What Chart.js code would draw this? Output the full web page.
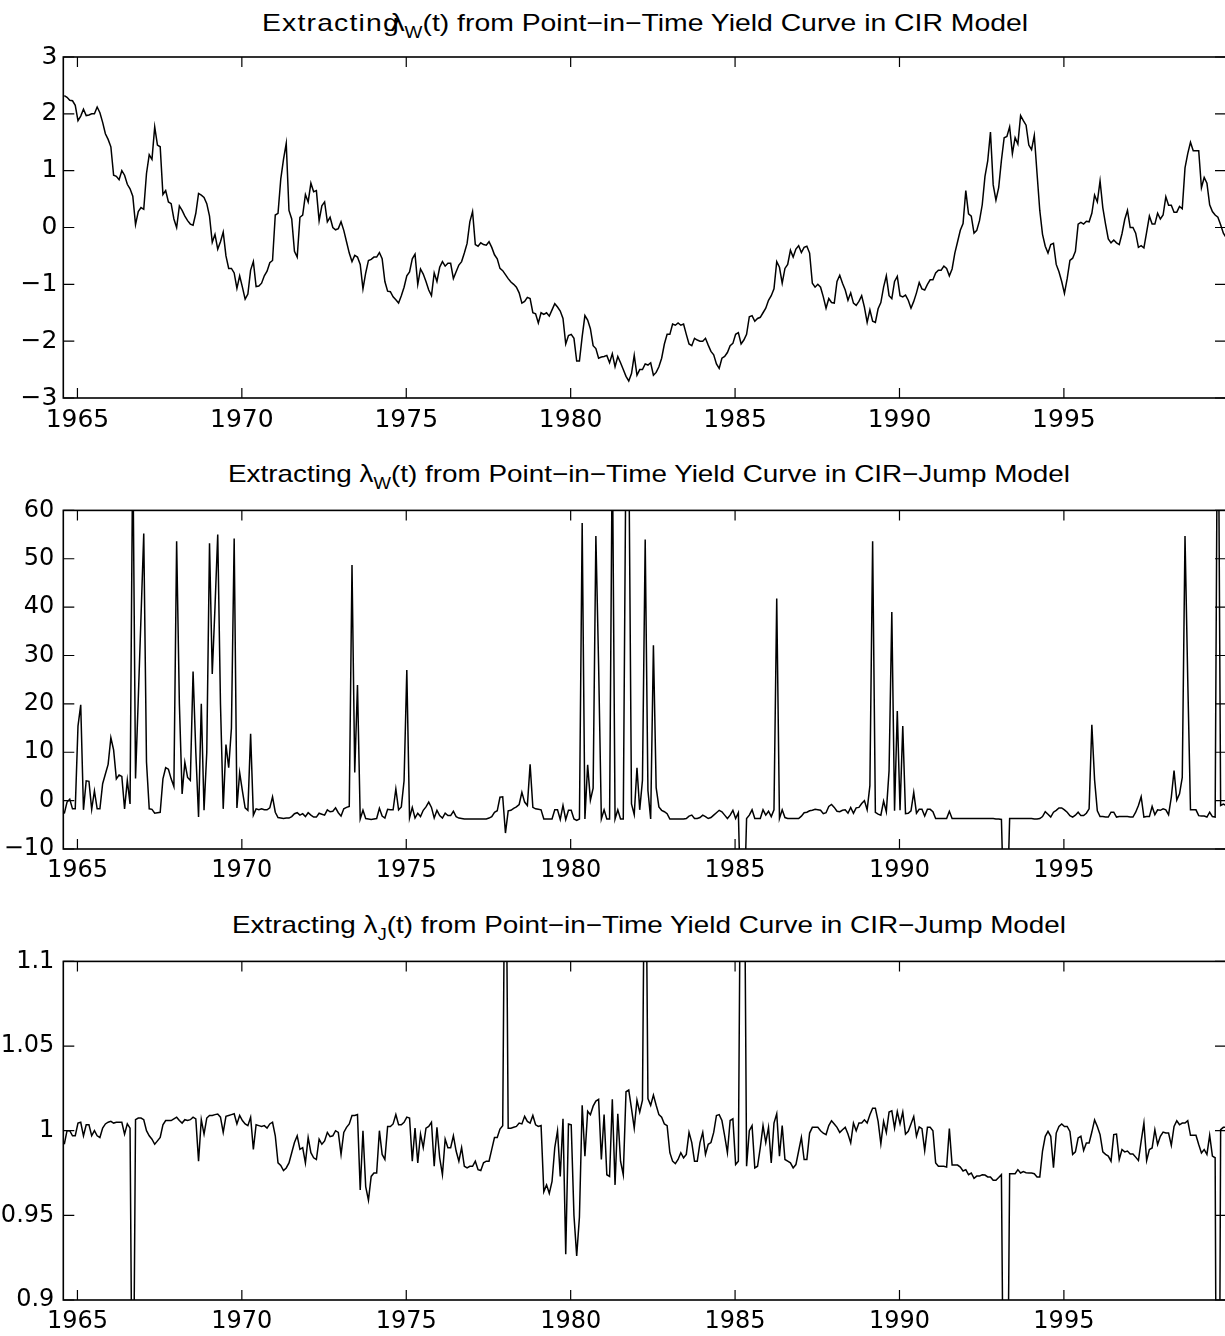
<!DOCTYPE html>
<html>
<head>
<meta charset="utf-8">
<title>Extracting lambda from Point-in-Time Yield Curve</title>
<script src="https://cdn.jsdelivr.net/npm/chart.js@4.4.1/dist/chart.umd.min.js"></script>
<style>
  html, body { margin: 0; padding: 0; background: #fff; width: 1225px; height: 1336px; overflow: hidden; }
  canvas { position: absolute; left: 0; }
  .title {
    position: absolute; white-space: nowrap; color: #000;
    font-family: "Liberation Sans", Arial, sans-serif; font-size: 24px; line-height: 28px;
  }
  .title sub { font-size: 16px; vertical-align: -7px; line-height: 0; }
  #t1 .word { letter-spacing: 1px; }
  #t1 .lam { margin-left: -8px; }
</style>
</head>
<body>

<div class="title" id="t1"><span class="word">Extracting</span><span class="lam">λ<sub>W</sub></span>(t) from Point−in−Time Yield Curve in CIR Model</div>
<div class="title" id="t2">Extracting λ<sub>W</sub>(t) from Point−in−Time Yield Curve in CIR−Jump Model</div>
<div class="title" id="t3">Extracting λ<sub>J</sub>(t) from Point−in−Time Yield Curve in CIR−Jump Model</div>

<canvas id="c1" width="1240" height="412" style="top:36px"></canvas>
<canvas id="c2" width="1240" height="412" style="top:487px"></canvas>
<canvas id="c3" width="1240" height="412" style="top:938px"></canvas>

<script>
// monthly series, first value = Aug 1964 (one row per calendar year)
const firstMonth = 1964.6;

const cirLambdaW = [
  2.32, 2.29, 2.24, 2.23, 2.15,
  1.88, 1.96, 2.08, 1.97, 1.98, 2.0, 2.0, 2.12, 2.02, 1.85, 1.65, 1.55,
  1.42, 0.92, 0.9, 0.84, 1.0, 0.92, 0.76, 0.68, 0.55, 0.05, 0.28, 0.35,
  0.32, 0.95, 1.28, 1.2, 1.77, 1.45, 1.42, 0.58, 0.65, 0.45, 0.42, 0.15,
  0.0, 0.38, 0.3, 0.2, 0.12, 0.06, 0.04, 0.25, 0.6, 0.57, 0.53, 0.42,
  0.2, -0.26, -0.12, -0.38, -0.25, -0.08, -0.5, -0.72, -0.72, -0.8, -1.07, -0.85,
  -1.05, -1.26, -1.17, -0.75, -0.6, -1.04, -1.03, -0.98, -0.85, -0.77, -0.62, -0.58,
  0.22, 0.25, 0.85, 1.2, 1.48, 0.3, 0.15, -0.42, -0.52, 0.18, 0.22, 0.58,
  0.45, 0.78, 0.63, 0.65, 0.12, 0.38, 0.45, 0.1, 0.18, 0.0, -0.04, -0.02,
  0.1, -0.05, -0.25, -0.45, -0.6, -0.49, -0.52, -0.65, -1.08, -0.8, -0.58, -0.56,
  -0.52, -0.52, -0.44, -0.55, -0.95, -1.12, -1.13, -1.22, -1.27, -1.33, -1.2, -1.05,
  -0.85, -0.78, -0.55, -0.47, -1.0, -0.73, -0.82, -0.95, -1.1, -1.2, -0.8, -0.95,
  -0.7, -0.6, -0.68, -0.63, -0.63, -0.9, -0.78, -0.66, -0.6, -0.45, -0.28, 0.1,
  0.28, -0.3, -0.33, -0.27, -0.3, -0.31, -0.25, -0.35, -0.48, -0.55, -0.72, -0.76,
  -0.83, -0.9, -0.96, -1.0, -1.05, -1.15, -1.33, -1.3, -1.23, -1.25, -1.5, -1.52,
  -1.68, -1.5, -1.53, -1.5, -1.56, -1.45, -1.34, -1.4, -1.47, -1.6, -2.05, -1.9,
  -1.88, -1.95, -2.35, -2.35, -1.92, -1.55, -1.63, -1.78, -2.08, -2.13, -2.3, -2.28,
  -2.27, -2.25, -2.38, -2.22, -2.45, -2.27, -2.38, -2.5, -2.62, -2.7, -2.57, -2.25,
  -2.6, -2.5, -2.5, -2.4, -2.42, -2.38, -2.6, -2.55, -2.45, -2.3, -2.05, -1.88,
  -1.88, -1.7, -1.72, -1.68, -1.72, -1.7, -1.88, -2.05, -2.08, -1.95, -1.98, -2.0,
  -2.0, -1.95, -2.07, -2.18, -2.24, -2.4, -2.48, -2.3, -2.27, -2.2, -2.08, -2.04,
  -1.88, -1.85, -2.05, -1.98, -1.88, -1.57, -1.55, -1.65, -1.6, -1.58, -1.5, -1.42,
  -1.28, -1.2, -1.08, -0.6, -0.7, -0.98, -0.72, -0.65, -0.4, -0.52, -0.38, -0.32,
  -0.44, -0.35, -0.33, -0.45, -0.98, -1.05, -1.0, -1.05, -1.22, -1.42, -1.25, -1.32,
  -1.33, -0.95, -0.84, -0.98, -1.1, -1.28, -1.15, -1.33, -1.37, -1.3, -1.2, -1.4,
  -1.67, -1.45, -1.65, -1.67, -1.43, -1.32, -1.05, -0.85, -1.2, -1.25, -0.95, -0.86,
  -1.2, -1.22, -1.19, -1.28, -1.42, -1.3, -1.15, -0.97, -1.08, -1.1, -1.0, -0.92,
  -0.92, -0.8, -0.75, -0.75, -0.68, -0.72, -0.85, -0.73, -0.45, -0.25, -0.05, 0.07,
  0.65, 0.24, 0.2, -0.1, -0.05, 0.12, 0.4, 0.9, 1.17, 1.68, 0.75, 0.48,
  0.7, 1.18, 1.58, 1.6, 1.77, 1.3, 1.58, 1.47, 1.97, 1.88, 1.8, 1.45,
  1.37, 1.62, 0.95, 0.3, -0.12, -0.33, -0.45, -0.3, -0.28, -0.65, -0.78, -0.95,
  -1.16, -0.9, -0.58, -0.54, -0.42, 0.06, 0.09, 0.06, 0.11, 0.1, 0.25, 0.57,
  0.45, 0.82, 0.35, 0.06, -0.2, -0.27, -0.22, -0.27, -0.3, -0.11, 0.14, 0.3,
  0.0, 0.0, -0.1, -0.35, -0.32, -0.36, -0.08, 0.2, 0.06, 0.06, 0.25, 0.15,
  0.22, 0.54, 0.39, 0.39, 0.27, 0.27, 0.37, 0.33, 1.05, 1.3, 1.5, 1.35,
  1.35, 1.35, 0.7, 0.88, 0.78, 0.4, 0.28, 0.22, 0.18, 0.05, -0.1, -0.18
];

const jumpLambdaW = [
  -2.7, -0.3, 0.3, -1.7, -1.7,
  15.4, 19.8, -1.9, 4.1, 4.0, -1.8, 2.0, -1.7, -1.7, 3.5, 5.5, 7.5,
  13.0, 10.5, 4.5, 5.3, 5.0, -1.7, 4.2, -0.7, 75, 4.6, 21, 38,
  55.2, 8, -1.7, -1.8, -2.6, -2.5, -2.4, 4.5, 6.8, 6.5, 4.5, 2.9,
  53.6, 20, 1.4, 7.9, 4.8, 4.2, 26.7, 10, -3.4, 20, -2, 10,
  53.2, 26.2, 40, 55, 20, -1.7, 11.6, 6.8, 15, 54.2, -1.5, 5.8,
  2, -1.5, -2.0, 13.8, -3.0, -1.7, -1.9, -1.7, -1.9, -1.9, -1.5, 0.8,
  -2.4, -3.5, -3.6, -3.7, -3.6, -3.6, -3.3, -2.7, -2.5, -3.0, -2.7, -3.3,
  -2.5, -3.0, -3.4, -3.4, -2.6, -2.8, -3.0, -1.9, -2.3, -2.2, -1.5, -2.5,
  -3.2, -1.7, -1.4, -1.2, 48.7, 5.8, 23.9, -3.8, -2.0, -3.7, -3.8, -3.9,
  -3.8, -3.7, -1.6, -3.2, -3.6, -1.8, -1.9, -1.9, 2.4, -1.9, -1.3, 4.1,
  27.0, -3.6, -1.4, -3.6, -2.6, -3.3, -2.0, -1.3, -0.3, -1.4, -3.6, -2.0,
  -3.1, -3.6, -2.6, -3.1, -3.1, -2.2, -3.3, -3.6, -3.7, -3.8, -3.8, -3.8,
  -3.8, -3.8, -3.8, -3.8, -3.8, -3.8, -3.6, -3.3, -2.4, -2.1, 0.7, 0.8,
  -6.7, -2.1, -2.0, -1.6, -1.3, -0.8, 1.7, -0.3, -1.0, 7.5, -1.4, -1.7,
  -1.8, -1.9, -3.8, -3.8, -3.8, -3.8, -1.9, -1.9, -3.9, -1.0, -3.9, -2.0,
  -2.0, -3.8, -4.1, -3.8, 57.4, -3.8, 7.4, 0.1, 2.6, 54.7, 28, -3.8,
  -1.9, -3.8, -3.8, 75, -3.8, -1.9, -3.8, -3.8, 75, 75, -0.7, -2.9,
  6.8, -1.9, 4.2, 54, 2.1, -3.8, 32.1, 2.7, -1.3, -2.0, -2.3, -2.7,
  -3.8, -3.8, -3.8, -3.8, -3.8, -3.8, -3.7, -3.2, -3.0, -3.7, -3.7, -3.5,
  -3.0, -3.3, -3.7, -3.5, -3.0, -2.5, -2.0, -2.3, -3.0, -3.7, -3.0, -2.0,
  -3.7, -2.5, -25, -25, -3.7, -3.0, -1.9, -3.7, -3.7, -3.7, -1.9, -3.0,
  -2.2, -3.3, -1.9, 41.8, -3.7, -1.9, -3.5, -3.7, -3.7, -3.7, -3.7, -3.7,
  -3.2, -2.5, -2.4, -2.1, -2.0, -1.8, -1.9, -2.0, -2.7, -2.5, -1.2, -0.8,
  -1.4, -2.2, -2.3, -2.0, -1.9, -2.6, -1.4, -2.6, -1.5, -1.4, -0.6, 0.0,
  -1.9, 3.1, 53.6, -2.4, -2.8, -3.0, -0.1, -2.3, 6.2, 39, -2.1, 18.5,
  -2.0, 15.4, -2.7, -2.6, -2.1, 1.7, -2.6, -1.8, -1.8, -3.2, -1.8, -1.8,
  -2.3, -3.7, -3.7, -3.7, -3.7, -3.7, -2.2, -3.7, -3.7, -3.7, -3.7, -3.7,
  -3.7, -3.7, -3.7, -3.7, -3.7, -3.7, -3.7, -3.7, -3.7, -3.7, -3.7, -3.8,
  -3.8, -3.9, -25, -25, -3.7, -3.7, -3.7, -3.7, -3.7, -3.7, -3.7, -3.7,
  -3.7, -3.8, -3.8, -3.7, -3.3, -2.3, -2.8, -3.4, -2.4, -2.0, -1.5, -1.5,
  -1.9, -2.4, -3.1, -3.4, -3.0, -2.4, -3.1, -3.1, -2.6, -1.7, 15.7, 4.3,
  -2.1, -3.3, -3.3, -3.4, -3.4, -2.4, -2.4, -3.4, -3.3, -3.3, -3.3, -3.3,
  -3.4, -3.4, -2.4, -1.0, 0.8, -3.4, -3.3, -3.3, -1.2, -2.9, -1.9, -2.0,
  -1.7, -1.9, -2.9, 0.7, 6.2, 0.1, 1.4, 4.8, 54.7, 25, -1.9, -1.9,
  -1.9, -3.1, -3.2, -3.2, -3.4, -2.4, -3.3, -3.4, 100, -1.0, -0.7, -1.0
];

const jumpLambdaJ = [
  0.992, 1.0, 1.0, 0.997, 0.997,
  1.0045, 1.005, 0.997, 1.0035, 1.0035, 0.997, 1.0, 0.997, 0.996, 1.0015, 1.004, 1.005,
  1.0055, 1.0045, 1.005, 1.005, 1.005, 0.998, 1.004, 1.0015, 0.78, 1.0065, 1.0075, 1.0075,
  1.0065, 1.0, 0.997, 0.995, 0.992, 0.994, 0.996, 1.0035, 1.006, 1.006, 1.006, 1.007,
  1.008, 1.006, 1.0045, 1.0065, 1.006, 1.0065, 1.008, 1.007, 0.982, 1.0065, 0.998, 1.0075,
  1.009, 1.009, 1.0095, 1.0098, 1.008, 0.999, 1.0085, 1.009, 1.0095, 1.01, 1.004, 1.009,
  1.006, 1.004, 1.003, 1.008, 0.989, 1.0035, 1.003, 1.0025, 1.003, 1.0015, 1.004, 1.005,
  0.997, 0.981, 0.9795, 0.9765, 0.978, 0.981, 0.987, 0.993, 0.997, 0.989, 0.99, 0.981,
  0.996, 0.987, 0.984, 0.983, 0.995, 0.992, 0.994, 0.999, 0.9965, 0.997, 1.0, 0.999,
  0.986, 0.999, 1.002, 1.004, 1.009, 1.009, 1.0095, 0.965, 1.0, 0.967, 0.959, 0.973,
  0.975, 0.975, 1.0, 0.986, 0.983, 1.0025, 1.0025, 1.004, 1.0095, 1.0035, 1.0035, 1.005,
  1.008, 1.0075, 0.982, 1.0015, 0.981, 0.998, 0.99, 1.0015, 1.0025, 1.005, 0.979, 1.002,
  0.984, 0.974, 0.995, 0.99, 0.99, 0.997, 0.988, 0.982, 0.99, 0.979, 0.978, 0.979,
  0.979, 0.982, 0.977, 0.9765, 0.981, 0.982, 0.982, 0.989, 0.996, 0.996, 1.001, 1.003,
  1.22, 1.0015, 1.0015, 1.002, 1.0025, 1.0045, 1.004, 1.0085, 1.0055, 1.0045, 1.009, 1.0035,
  1.0025, 1.003, 0.964, 0.968, 0.963, 0.97, 0.99, 1.0, 0.973, 1.007, 0.927, 1.004,
  1.0035, 0.95, 0.926, 0.949, 1.015, 0.985, 1.0115, 1.0095, 1.0145, 1.0175, 1.0185, 0.983,
  1.0095, 0.974, 0.973, 1.0185, 0.968, 1.01, 0.982, 0.974, 1.023, 1.024, 1.013, 1.0015,
  1.018, 1.011, 1.018, 1.22, 1.019, 1.015, 1.021, 1.015, 1.0095, 1.008, 1.004, 1.003,
  0.987, 0.982, 0.9805, 0.983, 0.987, 0.984, 0.986, 0.999, 0.993, 0.982, 0.982, 0.993,
  0.999, 0.986, 0.992, 0.993, 0.999, 1.009, 1.0095, 1.006, 0.997, 0.987, 1.006, 1.007,
  0.98, 0.982, 1.22, 1.22, 0.979, 1.0, 1.003, 0.978, 0.979, 0.99, 1.003, 0.993,
  1.002, 0.981, 1.0045, 1.01, 0.985, 1.003, 0.983, 0.982, 0.981, 0.978, 0.98, 0.988,
  0.996, 0.983, 0.983, 0.9986, 1.002, 1.002, 1.002, 1.0, 0.9985, 0.9977, 1.003, 1.0059,
  1.004, 1.002, 0.999, 1.0006, 1.002, 0.998, 0.9928, 1.0045, 1.0, 1.0045, 1.0045, 1.0064,
  1.0045, 1.0094, 1.0133, 1.0133, 1.0055, 0.9922, 1.0055, 0.999, 1.011, 1.0117, 1.0016, 1.0113,
  1.004, 1.011, 0.998, 0.9996, 1.004, 1.0084, 0.9967, 1.0022, 1.0012, 0.9883, 1.002, 1.002,
  1.0, 0.981, 0.979, 0.979, 0.979, 0.9785, 1.0012, 0.9797, 0.9797, 0.9797, 0.9785, 0.9762,
  0.977, 0.974, 0.975, 0.9719, 0.9732, 0.9732, 0.974, 0.9738, 0.9727, 0.9727, 0.9707, 0.9707,
  0.9723, 0.974, 0.78, 0.78, 0.9746, 0.9746, 0.9746, 0.977, 0.975, 0.9758, 0.9752, 0.975,
  0.975, 0.9746, 0.9727, 0.9727, 0.988, 0.9967, 0.9996, 0.9967, 0.9781, 0.9986, 1.0025, 1.004,
  1.0025, 1.0025, 0.9996, 0.986, 0.9875, 0.9957, 0.9967, 0.9883, 0.9928, 0.9928, 0.9992, 1.0064,
  1.0025, 0.9977, 0.9875, 0.986, 0.985, 0.982, 0.9977, 0.998, 0.983, 0.9889, 0.9875, 0.988,
  0.9863, 0.9863, 0.9844, 0.9824, 0.9938, 1.0045, 0.9824, 0.9889, 0.9898, 1.0006, 0.9918, 0.9967,
  0.9992, 0.9986, 0.9986, 0.9914, 1.0025, 1.0059, 1.0035, 1.0045, 1.0045, 1.0059, 0.9973, 0.9973,
  0.9973, 0.9918, 0.9869, 0.9889, 0.986, 0.9973, 0.985, 0.984, 0.6, 1.0006, 1.002, 1.002
];

const xTickValues = [1965, 1970, 1975, 1980, 1985, 1990, 1995];
const xTickLabels = ["1965", "1970", "1975", "1980", "1985", "1990", "1995"];

const yTicks1 = [-3, -2, -1, 0, 1, 2, 3];
const yLabels1 = ["−3", "−2", "−1", "0", "1", "2", "3"];
const yTicks2 = [-10, 0, 10, 20, 30, 40, 50, 60];
const yLabels2 = ["−10", "0", "10", "20", "30", "40", "50", "60"];
const yTicks3 = [0.9, 0.95, 1, 1.05, 1.1];
const yLabels3 = ["0.9", "0.95", "1", "1.05", "1.1"];

// x range of the axes box
const X_MIN = 1964.57;
const X_MAX = 1999.93;

// frame + inward tick marks on all four sides
const boxPlugin = {
  id: "box",
  afterDraw(chart) {
    const { ctx, chartArea: a, scales } = chart;
    ctx.save();
    ctx.strokeStyle = "#000";
    ctx.lineWidth = 1.6;
    ctx.strokeRect(a.left, a.top, a.right - a.left, a.bottom - a.top);
    ctx.lineWidth = 1.2;
    ctx.beginPath();
    scales.x.ticks.forEach(t => {
      const x = scales.x.getPixelForValue(t.value);
      ctx.moveTo(x, a.bottom); ctx.lineTo(x, a.bottom - 10);
      ctx.moveTo(x, a.top); ctx.lineTo(x, a.top + 10);
    });
    scales.y.ticks.forEach(t => {
      const y = scales.y.getPixelForValue(t.value);
      ctx.moveTo(a.left, y); ctx.lineTo(a.left + 11, y);
      ctx.moveTo(a.right, y); ctx.lineTo(a.right - 11, y);
    });
    ctx.stroke();
    ctx.restore();
  }
};

const fontFamily = "'DejaVu Sans', 'Liberation Sans', sans-serif";

function makePanel(id, values, yTicks, yLabels, yPad, fontSize) {
  const points = values.map((v, i) => ({ x: firstMonth + i / 12, y: v }));
  const tickFont = { family: fontFamily, size: fontSize };
  return new Chart(document.getElementById(id), {
    type: "line",
    data: {
      datasets: [{
        data: points,
        borderColor: "#000",
        borderWidth: 1.5,
        pointRadius: 0,
        fill: false,
        tension: 0,
        clip: 0
      }]
    },
    options: {
      responsive: false,
      animation: false,
      devicePixelRatio: 1,
      layout: { padding: { top: 20, right: 14, left: 0, bottom: 0 } },
      plugins: { legend: { display: false }, tooltip: { enabled: false } },
      scales: {
        x: {
          type: "linear",
          min: X_MIN,
          max: X_MAX,
          afterBuildTicks: s => { s.ticks = xTickValues.map(v => ({ value: v })); },
          afterFit: s => { s.height = 50; },
          grid: { display: false, drawTicks: false },
          border: { display: false },
          ticks: {
            color: "#000", font: tickFont, padding: 7, maxRotation: 0, autoSkip: false,
            callback: (v, i) => xTickLabels[i]
          }
        },
        y: {
          type: "linear",
          min: yTicks[0],
          max: yTicks[yTicks.length - 1],
          afterBuildTicks: s => { s.ticks = yTicks.map(v => ({ value: v })); },
          afterFit: s => { s.width = 63.3; },
          grid: { display: false, drawTicks: false },
          border: { display: false },
          ticks: {
            color: "#000", font: tickFont, padding: yPad, autoSkip: false,
            callback: (v, i) => yLabels[i]
          }
        }
      }
    },
    plugins: [boxPlugin]
  });
}

makePanel("c1", cirLambdaW, yTicks1, yLabels1, 6, 25);
makePanel("c2", jumpLambdaW, yTicks2, yLabels2, 9, 24);
makePanel("c3", jumpLambdaJ, yTicks3, yLabels3, 9, 24);

// titles: centred over the plots, stretched to the reference width
const titleSpecs = [
  { id: "t1", center: 645, top: 9, width: 766 },
  { id: "t2", center: 649, top: 460, width: 842 },
  { id: "t3", center: 649, top: 911, width: 834 }
];
titleSpecs.forEach(s => {
  const el = document.getElementById(s.id);
  const w = el.getBoundingClientRect().width;
  el.style.transformOrigin = "0 0";
  el.style.transform = "scaleX(" + (s.width / w) + ")";
  el.style.left = (s.center - s.width / 2) + "px";
  el.style.top = s.top + "px";
});
</script>
</body>
</html>
